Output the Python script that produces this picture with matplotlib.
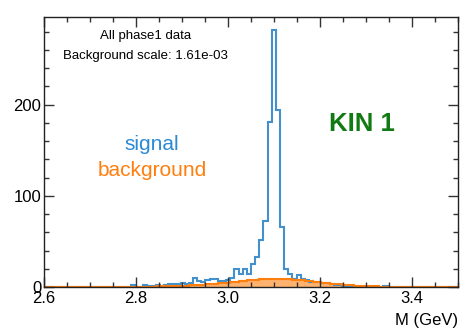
import numpy as np
import matplotlib
matplotlib.use('Agg')
import matplotlib.pyplot as plt
from matplotlib.ticker import MultipleLocator

plt.rcParams['font.family'] = ['Liberation Sans', 'DejaVu Sans']

# 100 bins from 2.6 to 3.5 GeV
edges = np.linspace(2.6, 3.5, 101)

signal = [0] * 21 + [2, 0, 0, 2, 1, 1, 2, 1, 2, 3, 3, 3, 4, 3, 4,
                     10, 7, 5, 8, 9, 9, 7, 7, 8, 10,
                     20, 14, 20, 14, 25, 33, 51, 72, 181, 282,
                     194, 66, 20, 14, 9, 13, 9, 8, 6, 6,
                     5, 4, 4, 3, 2, 2, 1, 1, 1, 0,
                     0, 0, 0, 0, 0, 0, 1] + [0] * 17

background = ([0] * 20 +
              [0.05, 0.1, 0.15, 0.2, 0.3, 0.4, 0.5, 0.6, 0.7, 0.85,
               1.0, 1.15, 1.3, 1.45, 1.6, 1.8, 2.0, 2.3, 2.6, 2.9,
               3.2, 3.5, 3.9, 4.3, 4.7, 5.2, 5.7, 6.2, 6.7, 7.2,
               7.6, 8.0, 8.3, 8.6, 8.8, 8.9, 8.9, 8.8, 8.6, 8.3,
               8.0, 7.6, 7.2, 6.7, 6.2, 5.7, 5.2, 4.7, 4.2, 3.7,
               3.3, 2.9, 2.5, 2.2, 1.9, 1.6, 1.4, 1.2, 1.0, 0.8,
               0.65, 0.5, 0.4, 0.3, 0.2, 0.15, 0.1, 0.05] +
              [0] * 12)

fig = plt.figure(figsize=(4.69, 3.30), dpi=100)
ax = fig.add_axes([0.0938, 0.1303, 0.8827, 0.8182])

ax.stairs(background, edges, fill=True, color='#ff7f0e', alpha=0.6, lw=0)
ax.stairs(signal, edges, color='#4490cc', lw=1.5)
ax.stairs(background, edges, color='#ff7f0e', lw=1.5)

ax.set_xlim(2.6, 3.5)
ax.set_ylim(0, 296)

ax.xaxis.set_major_locator(MultipleLocator(0.2))
ax.xaxis.set_minor_locator(MultipleLocator(0.05))
ax.yaxis.set_major_locator(MultipleLocator(100))
ax.yaxis.set_minor_locator(MultipleLocator(20))
ax.tick_params(which='both', direction='in', top=True, right=True,
               labelsize=12, width=1, color='#333333')
ax.tick_params(which='major', length=7)
ax.tick_params(which='minor', length=3.5)
ax.tick_params(axis='y', pad=2)
ax.tick_params(axis='x', pad=3)
for s in ax.spines.values():
    s.set_linewidth(1)
    s.set_color('#222222')

ax.set_xlabel('M (GeV)', fontsize=12, loc='right', labelpad=5)

ax.text(0.245, 0.93, 'All phase1 data', transform=ax.transAxes,
        ha='center', va='center', fontsize=9.5)
ax.text(0.246, 0.856, 'Background scale: 1.61e-03', transform=ax.transAxes,
        ha='center', va='center', fontsize=9.5)
ax.text(0.261, 0.526, 'signal', transform=ax.transAxes, color='#2b8ad4',
        ha='center', va='center', fontsize=15)
ax.text(0.261, 0.433, 'background', transform=ax.transAxes, color='#ff7f0e',
        ha='center', va='center', fontsize=15)
ax.text(0.768, 0.604, 'KIN 1', transform=ax.transAxes, color='#127a12',
        ha='center', va='center', fontsize=18.5, fontweight='bold')

fig.savefig('out.png', dpi=100)
